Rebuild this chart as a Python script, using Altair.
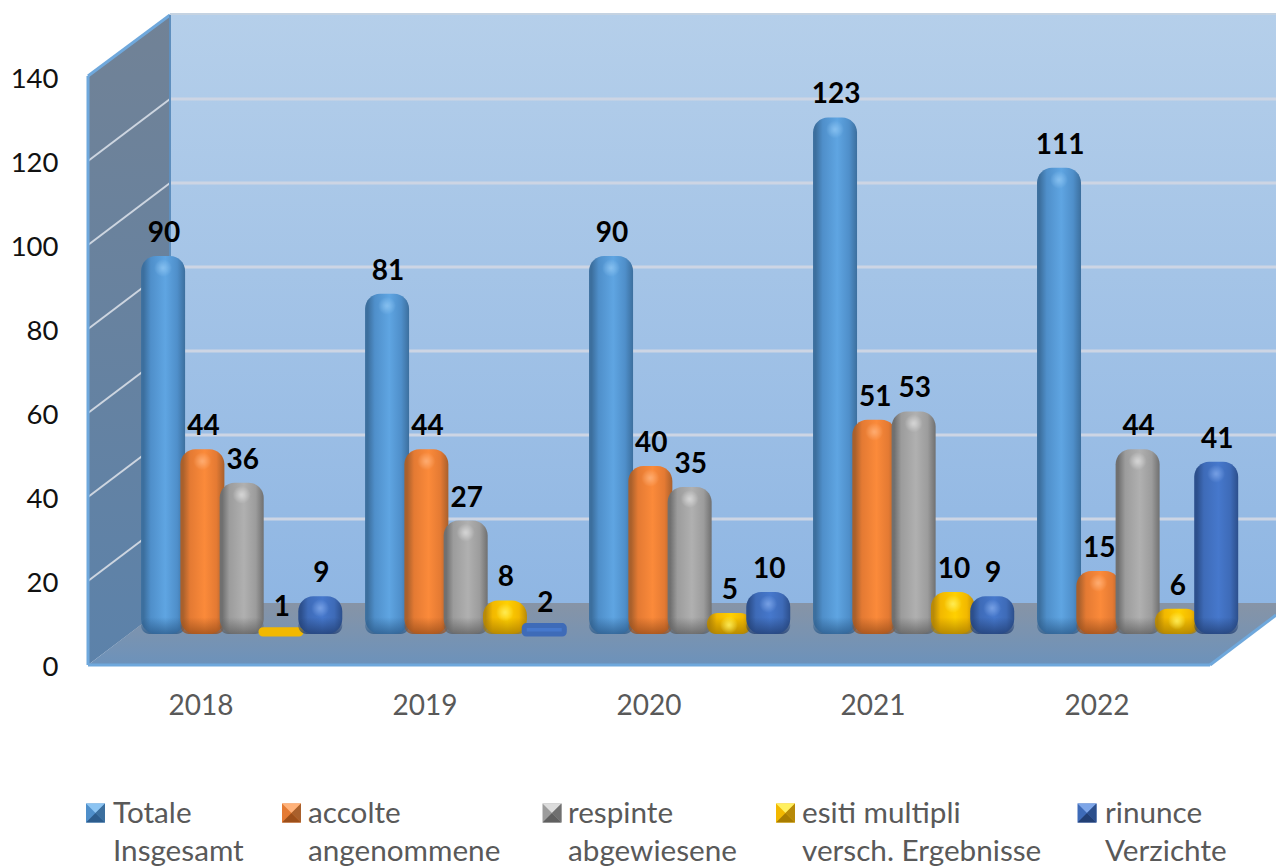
import altair as alt
import pandas as pd

# Chart values
YEARS = ["2018", "2019", "2020", "2021", "2022"]
SERIES = ["Totale", "accolte", "respinte", "esiti multipli", "rinunce"]
SECOND_LINE = ["Insgesamt", "angenommene", "abgewiesene", "versch. Ergebnisse", "Verzichte"]
TOTALE = [90, 81, 90, 123, 111]
ACCOLTE = [44, 44, 40, 51, 15]
RESPINTE = [36, 27, 35, 53, 44]
ESITI = [1, 8, 5, 10, 6]
RINUNCE = [9, 2, 10, 9, 41]
TICKS = [0, 20, 40, 60, 80, 100, 120, 140]

# Shades per series: edge, body, centre, light, deep
SHADES = {
    "Totale": ("#3c6f9e", "#4f8fca", "#5fa5e2", "#8cc4f2", "#2c5c8c"),
    "accolte": ("#a9602c", "#e47a33", "#fb8a3a", "#ffb27a", "#9c4f1a"),
    "respinte": ("#707070", "#9c9c9c", "#b0b0b0", "#dcdcdc", "#606060"),
    "esiti multipli": ("#b88a08", "#f2b800", "#ffd000", "#fff060", "#a87c00"),
    "rinunce": ("#2c4f8c", "#3e6bb8", "#4678cc", "#7ea6e8", "#223f74"),
}

LEFT = 88
PLOT_W = 1188
PLOT_H = 665
UNIT = 4.2        # pixels per unit on the value scale
BASE = 634        # pixel row of the value zero
FONT = "Lato"

records = []
for name, vals in zip(SERIES, [TOTALE, ACCOLTE, RESPINTE, ESITI, RINUNCE]):
    for yr, v in zip(YEARS, vals):
        records.append({"year": yr, "series": name, "value": v})
df = pd.DataFrame(records)

# Scenery scales work in plot pixels
sx = alt.Scale(domain=[0, PLOT_W], nice=False, zero=False)
sy = alt.Scale(domain=[PLOT_H, 0], nice=False, zero=False)
X = lambda f: alt.X(f, type="quantitative", scale=sx, axis=None)
Y = lambda f: alt.Y(f, type="quantitative", scale=sy, axis=None)


def vgrad(top, bottom):
    return alt.Gradient(gradient="linear", x1=0, x2=0, y1=0, y2=1,
                        stops=[alt.GradientStop(color=top, offset=0),
                               alt.GradientStop(color=bottom, offset=1)])


back_wall = alt.Chart(pd.DataFrame({"x": [82], "x2": [PLOT_W], "y": [14], "y2": [603]})).mark_rect(
    fill=vgrad("#b5cfea", "#8fb6e3")
).encode(x=X("x"), x2="x2", y=Y("y"), y2="y2")

side_wall = alt.Chart(pd.DataFrame({"x": [0, 82], "y": [76, 15], "y2": [665, 603]})).mark_area(
    fill=vgrad("#718296", "#5c82aa")
).encode(x=X("x"), y=Y("y"), y2="y2")

floor = alt.Chart(pd.DataFrame({
    "y": [603, 615, 665], "x": [82, 65.6, 0], "x2": [PLOT_W, PLOT_W, 1122]
})).mark_area(orient="horizontal", fill=vgrad("#8794a6", "#6c92bb")).encode(
    y=Y("y"), x=X("x"), x2="x2"
)

# Grid lines on the back wall and their continuation across the side wall
grid_back = pd.DataFrame({"x": 82, "x2": PLOT_W, "y": [603 - UNIT * t for t in TICKS[1:]]})
grid_side = pd.DataFrame({"x": 0, "x2": 82,
                          "y": [665 - UNIT * t for t in TICKS[1:-1]],
                          "y2": [603 - UNIT * t for t in TICKS[1:-1]]})
grid_a = alt.Chart(grid_back).transform_filter("datum.y > 20").mark_rule(
    color="#cdd5e4", strokeWidth=3
).encode(x=X("x"), x2="x2", y=Y("y"))
grid_b = alt.Chart(grid_side).mark_rule(color="#cdd5e0", strokeWidth=2).encode(
    x=X("x"), x2="x2", y=Y("y"), y2="y2"
)

edges = pd.DataFrame({
    "x": [0, 0, 0, 82, 82, 1122],
    "x2": [82, 0, 1122, 82, PLOT_W, PLOT_W],
    "y": [76, 76, 665, 15, 14, 665],
    "y2": [15, 665, 665, 603, 14, 615],
    "kind": ["a", "a", "a", "b", "c", "a"],
})
edge_a = alt.Chart(edges).transform_filter("datum.kind == 'a'").mark_rule(
    color="#6fa8dc", strokeWidth=3
).encode(x=X("x"), x2="x2", y=Y("y"), y2="y2")
edge_b = alt.Chart(edges).transform_filter("datum.kind == 'b'").mark_rule(
    color="#5f8fbe", strokeWidth=2
).encode(x=X("x"), x2="x2", y=Y("y"), y2="y2")
edge_c = alt.Chart(edges).transform_filter("datum.kind == 'c'").mark_rule(
    color="#c5d3e2", strokeWidth=2
).encode(x=X("x"), x2="x2", y=Y("y"), y2="y2")

scenery = alt.layer(back_wall, side_wall, floor, grid_a, grid_b, edge_a, edge_b, edge_c)

# Columns share one band scale, with each year's columns overlapping slightly
x_enc = alt.X(
    "year:N",
    scale=alt.Scale(domain=YEARS, paddingInner=0.1228, paddingOuter=0.2134, align=0.58),
    axis=alt.Axis(title=None, domain=False, ticks=False, labelAngle=0, labelOffset=-40.6,
                  orient="bottom", labelPadding=27, labelFontSize=28, labelFont=FONT,
                  labelColor="#595959"),
)
VALUE_SCALE = alt.Scale(domain=[(BASE - PLOT_H) / UNIT, BASE / UNIT], nice=False, zero=False)
VALUE_AXIS = alt.Axis(title=None, values=TICKS, domain=False, ticks=False, grid=False, orient="left",
                      labelOffset=33, labelPadding=30, labelFontSize=27.5, labelFont=FONT,
                      labelColor="#111111")


def y_of(field):
    # every column layer carries the same axis so that they merge into one
    return alt.Y(field, type="quantitative", scale=VALUE_SCALE, axis=VALUE_AXIS)


off_enc = alt.XOffset("series:N", scale=alt.Scale(domain=SERIES, paddingInner=0, paddingOuter=0))

layers = []
for name in SERIES:
    edge, body, centre, light, deep = SHADES[name]
    base = alt.Chart(df).transform_filter(alt.datum.series == name)
    fill = alt.Gradient(gradient="linear", x1=0, x2=1, y1=0, y2=0, stops=[
        alt.GradientStop(color=edge, offset=0),
        alt.GradientStop(color=edge, offset=0.06),
        alt.GradientStop(color=body, offset=0.22),
        alt.GradientStop(color=centre, offset=0.55),
        alt.GradientStop(color=body, offset=0.82),
        alt.GradientStop(color=edge, offset=1),
    ])
    column = base.mark_bar(width=44, cornerRadius=15, fill=fill).encode(
        x=x_enc, xOffset=off_enc, y=y_of("value"), y2=alt.Y2(datum=0)
    )
    # the shortest columns read as flattened pads, so they get a thick outline
    pad = base.transform_filter("datum.value <= 2").mark_bar(
        width=40, cornerRadius=2, fill=centre, stroke=body, strokeWidth=5, strokeJoin="round"
    ).encode(x=x_enc, xOffset=off_enc, y=y_of("value"), y2=alt.Y2(datum=0))
    # darker band at the foot of each column
    foot = base.transform_filter("datum.value > 2").transform_calculate(cap="min(datum.value, 4)").mark_bar(
        width=44, cornerRadius=13,
        fill=alt.Gradient(gradient="linear", x1=0, x2=0, y1=0, y2=1, stops=[
            alt.GradientStop(color=deep + "00", offset=0),
            alt.GradientStop(color=deep + "cc", offset=1),
        ])
    ).encode(x=x_enc, xOffset=off_enc, y=y_of("cap"), y2=alt.Y2(datum=0))
    # sheen near the top of each column
    sheen = base.transform_filter("datum.value >= 5").mark_circle(
        size=320, yOffset=12, opacity=1,
        fill=alt.Gradient(gradient="radial", stops=[
            alt.GradientStop(color=light + "dd", offset=0),
            alt.GradientStop(color=light + "00", offset=1),
        ])
    ).encode(x=x_enc, xOffset=off_enc, y=y_of("value"))
    layers += [column, pad, foot, sheen]

labels = alt.Chart(df).mark_text(
    font=FONT, fontSize=28, fontWeight="bold", color="#000000", dy=-22, dx=1, baseline="middle"
).encode(x=x_enc, xOffset=off_enc, y=y_of("value"), text="value:Q")

columns = alt.layer(*layers, labels)

# Legend: a bevelled swatch followed by two lines of text per entry
SWATCH_X = [95.5, 291.5, 552, 785.5, 1087]
TEXT_X = [113, 308, 568, 802, 1105]
legend_df = pd.DataFrame({
    "name": SERIES, "second": SECOND_LINE,
    "sx": [v - LEFT for v in SWATCH_X], "tx": [v - LEFT for v in TEXT_X],
    "edge": [SHADES[s][0] for s in SERIES], "body": [SHADES[s][1] for s in SERIES],
    "light": [SHADES[s][3] for s in SERIES], "deep": [SHADES[s][4] for s in SERIES],
})
legend_parts = []
BEVELS = [
    ("M-1,-1L1,-1L1,1L-1,1Z", "body"),
    ("M-1,-1L1,-1L0,0Z", "light"),
    ("M-1,1L1,1L0,0Z", "deep"),
    ("M1,-1L1,1L0,0Z", "edge"),
]
for path, col in BEVELS:
    legend_parts.append(
        alt.Chart(legend_df).mark_point(shape=path, filled=True, size=361, opacity=1, strokeWidth=0).encode(
            x=alt.X("sx:Q", scale=sx, axis=None),
            y=alt.value(813),
            color=alt.Color(f"{col}:N", scale=None, legend=None),
        )
    )
for field, row in [("name", 823), ("second", 861)]:
    legend_parts.append(
        alt.Chart(legend_df).mark_text(
            font=FONT, fontSize=29.7, color="#595959", align="left", baseline="alphabetic"
        ).encode(x=alt.X("tx:Q", scale=sx, axis=None), y=alt.value(row), text=f"{field}:N")
    )
legend_layer = alt.layer(*legend_parts)

chart = alt.layer(alt.layer(scenery, legend_layer), columns).resolve_scale(
    x="independent", y="independent"
).properties(
    width=PLOT_W, height=PLOT_H,
    padding={"left": LEFT, "top": 0, "right": 0, "bottom": 866 - PLOT_H},
    autosize=alt.AutoSizeParams(type="none"),
    background="white",
).configure_view(stroke=None)

chart.save("out.html", embed_options={"renderer": "svg", "actions": False})
